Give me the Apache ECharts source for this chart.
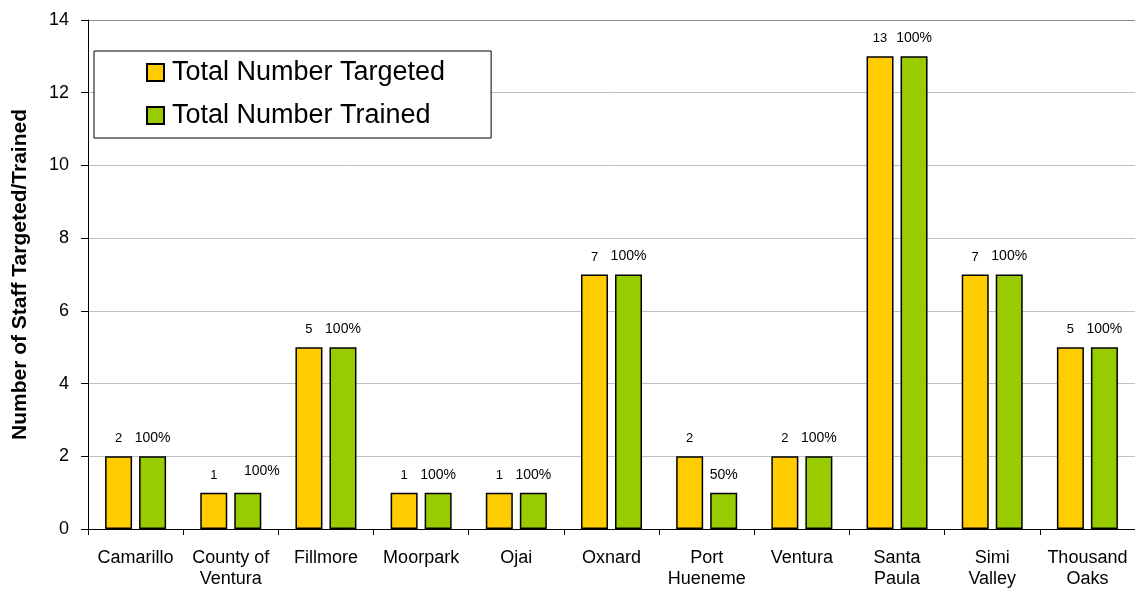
<!DOCTYPE html>
<html>
<head>
<meta charset="utf-8">
<script src="https://cdn.jsdelivr.net/npm/echarts@6/dist/echarts.min.js"></script>
<style>
html,body{margin:0;padding:0;background:#fff;}
#chart{width:1135px;height:592px;}
</style>
</head>
<body>
<div id="chart"></div>
<script>
var categories = ['Camarillo', 'County of\nVentura', 'Fillmore', 'Moorpark', 'Ojai', 'Oxnard', 'Port\nHueneme', 'Ventura', 'Santa\nPaula', 'Simi\nValley', 'Thousand\nOaks'];
var targeted = [2, 1, 5, 1, 1, 7, 2, 2, 13, 7, 5];
var trained = [2, 1, 5, 1, 1, 7, 1, 2, 13, 7, 5];
var trainedPct = ['100%', '100%', '100%', '100%', '100%', '100%', '50%', '100%', '100%', '100%', '100%'];
var yTicks = [0, 2, 4, 6, 8, 10, 12, 14];

var FONT = 'Arial, "Liberation Sans", sans-serif';

var trainedData = trained.map(function (v, i) {
  var item = { value: v };
  if (i === 1) {
    item.label = { offset: [14, -4] };
  }
  return item;
});

var chart = echarts.init(document.getElementById('chart'));
chart.setOption({
  animation: false,
  backgroundColor: '#ffffff',
  textStyle: { fontFamily: FONT },
  grid: { left: 88, top: 20, width: 1056, height: 509, containLabel: false },
  legend: {
    orient: 'vertical',
    left: 94,
    top: 51,
    padding: [8, 46, 9, 52],
    backgroundColor: '#ffffff',
    borderColor: '#000000',
    borderWidth: 1,
    itemWidth: 17,
    itemHeight: 17,
    itemGap: 16,
    icon: 'rect',
    textStyle: { fontSize: 27, color: '#000', fontFamily: FONT, padding: [0, 0, 0, 3] },
    data: ['Total Number Targeted', 'Total Number Trained']
  },
  xAxis: {
    type: 'category',
    data: categories,
    boundaryGap: true,
    axisLine: { lineStyle: { color: '#000', width: 1 } },
    axisTick: { show: true, alignWithLabel: false, length: 6, lineStyle: { color: '#000' } },
    axisLabel: { fontSize: 18, color: '#000', lineHeight: 21, margin: 19, interval: 0, fontFamily: FONT },
    splitLine: { show: false }
  },
  yAxis: {
    type: 'value',
    min: yTicks[0],
    max: yTicks[yTicks.length - 1],
    interval: 2,
    name: 'Number of Staff Targeted/Trained',
    nameLocation: 'middle',
    nameGap: 57,
    nameTextStyle: { fontSize: 21, fontWeight: 'bold', color: '#000', fontFamily: FONT },
    axisLine: { show: true, lineStyle: { color: '#000', width: 1 } },
    axisTick: { show: true, length: 7, lineStyle: { color: '#000' } },
    axisLabel: { fontSize: 18, color: '#000', margin: 19, fontFamily: FONT },
    splitLine: { show: true, lineStyle: { color: ['#c0c0c0', '#c0c0c0', '#c0c0c0', '#c0c0c0', '#c0c0c0', '#c0c0c0', '#c0c0c0', '#8c8c8c'], width: 1 } }
  },
  series: [
    {
      name: 'Total Number Targeted',
      type: 'bar',
      data: targeted,
      barWidth: 27,
      barGap: '26%',
      itemStyle: { color: '#FFCC00', borderColor: '#000', borderWidth: 1.5 },
      label: { show: true, position: 'top', distance: 11, fontSize: 13, color: '#000', fontFamily: FONT }
    },
    {
      name: 'Total Number Trained',
      type: 'bar',
      data: trainedData,
      barWidth: 27,
      barGap: '26%',
      itemStyle: { color: '#99CC00', borderColor: '#000', borderWidth: 1.5 },
      label: {
        show: true, position: 'top', distance: 11, fontSize: 14, color: '#000', fontFamily: FONT,
        formatter: function (p) { return trainedPct[p.dataIndex]; }
      }
    }
  ]
});
</script>
</body>
</html>
